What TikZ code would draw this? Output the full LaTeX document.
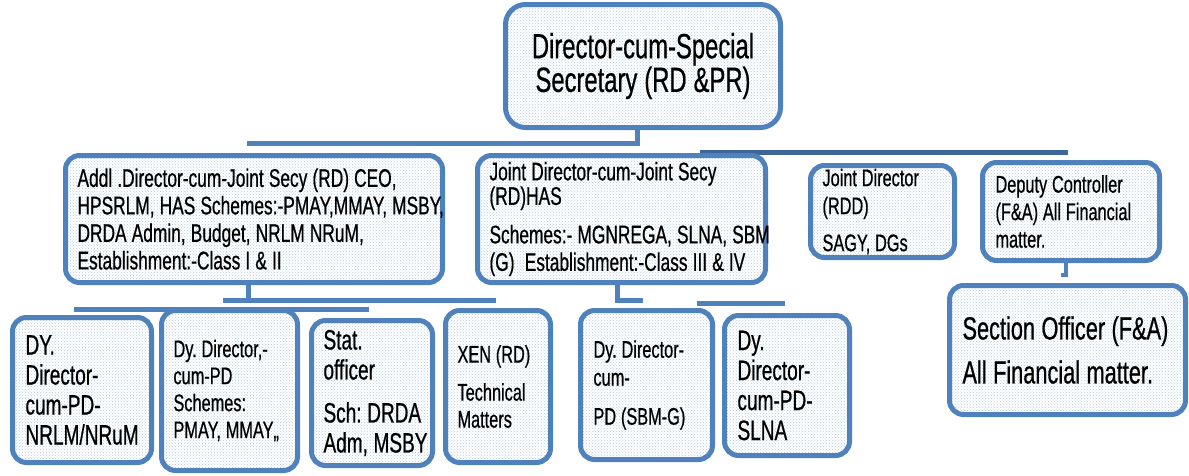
\documentclass[tikz,border=0pt]{standalone}
\usepackage{fontspec}
\setmainfont{Liberation Sans}[FakeStretch=0.68, WordSpace=0.68, FakeBold=0.6]
\usetikzlibrary{patterns,backgrounds}
\definecolor{bord}{RGB}{79,129,189}
\definecolor{bordd}{RGB}{62,102,155}
\definecolor{dotc}{RGB}{185,204,228}
\newcommand{\oneline}[1]{\mbox{#1}}
\newcommand{\fixspaces}{\spaceskip=0.2em\xspaceskip=0.2em\relax}
\tikzset{
  orgbox/.style={draw=bord, line width=5pt, rounded corners=14pt,
    preaction={fill=white}, pattern=crosshatch dots, pattern color=dotc,
    inner xsep=12pt, inner ysep=0pt, align=left, execute at begin node=\fixspaces},
  conn/.style={draw=bord, line width=5pt},
}
\begin{document}
\begin{tikzpicture}[x=1pt,y=-1pt]
\useasboundingbox (0,0) rectangle (1189,475);

% free ends of the connector bars
\coordinate (j1) at (247,143);
\coordinate (j2a) at (700,152.5);
\coordinate (j2b) at (1068,152.5);
\coordinate (j3a) at (223,300);
\coordinate (j3b) at (496,300);
\coordinate (j4a) at (74,309);
\coordinate (j4b) at (369,309);
\coordinate (j5) at (643,300);
\coordinate (j6a) at (697,303);
\coordinate (j6b) at (785,303);
\coordinate (j7) at (1061,275);

% boxes
\node[orgbox, rounded corners=20pt, align=center, minimum width=275pt, minimum height=123pt,
  font=\fontsize{35}{32}\selectfont] (T) at (643,66)
  {Director-cum-Special\\Secretary (RD \&PR)};

\node[orgbox, minimum width=377pt, text width=353pt, minimum height=127pt,
  font=\fontsize{25.5}{27.5}\selectfont] (A) at (254,219)
  {\oneline{Addl .Director-cum-Joint Secy (RD) CEO,}\\
   \oneline{HPSRLM, HAS Schemes:-PMAY,MMAY, MSBY,}\\
   \oneline{DRDA Admin, Budget, NRLM NRuM,}\\
   \oneline{Establishment:-Class I \& II}};

\node[orgbox, minimum width=288pt, text width=264pt, minimum height=127pt,
  font=\fontsize{25.5}{27.5}\selectfont] (B) at (621.5,219)
  {\oneline{Joint Director-cum-Joint Secy}\\[-3pt]
   (RD)HAS\\[11pt]
   \oneline{Schemes:- MGNREGA, SLNA, SBM}\\
   \oneline{(G)\ \ Establishment:-Class III \& IV}};

\node[orgbox, minimum width=144pt, text width=120pt, minimum height=92pt,
  font=\fontsize{24}{28}\selectfont] (C) at (882.5,211.5)
  {\oneline{Joint Director}\\ (RDD)\\[9pt] \oneline{SAGY, DGs}};

\node[orgbox, minimum width=177pt, text width=151pt, minimum height=98pt, inner xsep=13pt,
  font=\fontsize{24}{27.5}\selectfont] (D) at (1071,211.5)
  {\oneline{Deputy Controller}\\ \oneline{(F\&A) All Financial}\\ matter.};

\node[orgbox, minimum width=236pt, text width=210pt, minimum height=129pt, inner xsep=13pt,
  font=\fontsize{32}{44}\selectfont] (E) at (1067.5,350)
  {\oneline{Section Officer (F\&A)}\\ \oneline{All Financial matter.}};

\node[orgbox, minimum width=139pt, text width=113pt, minimum height=145pt, inner xsep=13pt,
  font=\fontsize{28}{30}\selectfont] (L1) at (82,390)
  {DY.\\ Director-\\ cum-PD-\\ \oneline{NRLM/NRuM}};

\node[orgbox, minimum width=136pt, text width=112pt, minimum height=160pt,
  font=\fontsize{24}{27}\selectfont] (L2) at (229.5,390.5)
  {\oneline{Dy. Director,-}\\ cum-PD\\ Schemes:\\ \oneline{PMAY, MMAY,,}};

\node[orgbox, minimum width=121pt, text width=97pt, minimum height=145pt,
  font=\fontsize{28}{30}\selectfont] (L3) at (372,393)
  {Stat.\\ officer\\[13pt] \oneline{Sch: DRDA}\\ \oneline{Adm, MSBY}};

\node[orgbox, minimum width=105pt, text width=81pt, minimum height=152pt,
  font=\fontsize{24}{27}\selectfont] (L4) at (498,386.5)
  {\oneline{XEN (RD)}\\[11pt] Technical\\ Matters};

\node[orgbox, minimum width=132pt, text width=106pt, minimum height=149pt, inner xsep=13pt,
  font=\fontsize{24}{28}\selectfont] (L5) at (646.5,385)
  {\oneline{Dy. Director-}\\ cum-\\[11pt] \oneline{PD (SBM-G)}};

\node[orgbox, minimum width=125pt, text width=99pt, minimum height=140pt, inner xsep=13pt,
  font=\fontsize{28}{30}\selectfont] (L6) at (787,385.5)
  {Dy.\\ Director-\\ cum-PD-\\ SLNA};

% connectors (behind boxes)
\begin{scope}[on background layer]
  \draw[conn] ([xshift=-6pt]T.south) |- (j1);
  \draw[conn, draw=bordd] (j2a) -- (j2b);
  \draw[conn] ([xshift=-6pt]A.south) |- (j3a);
  \draw[conn] ([xshift=-6pt]A.south |- j3a) -- (j3b);
  \draw[conn] (j4a) -- (j4b);
  \draw[conn] ([xshift=-4.5pt]B.south) |- (j5);
  \draw[conn] (j6a) -- (j6b);
  \draw[conn, line width=4pt] ([xshift=-5pt]D.south) |- (j7);
\end{scope}
\end{tikzpicture}
\end{document}
